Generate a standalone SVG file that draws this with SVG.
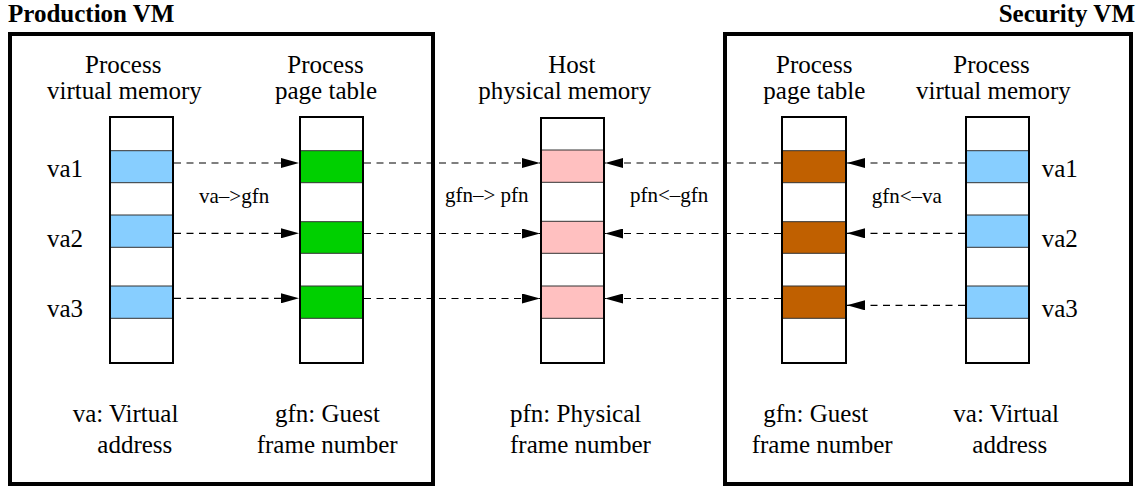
<svg xmlns="http://www.w3.org/2000/svg" width="1143" height="488" viewBox="0 0 1143 488" font-family="Liberation Serif, Tinos, Times New Roman, DejaVu Serif, serif">
  <style>
    text { font-family: 'Liberation Serif', Tinos, 'Times New Roman', 'DejaVu Serif', serif; fill: #000; }
    .title { font-size: 25px; font-weight: bold; }
    .lbl { font-size: 25px; }
    .small { font-size: 21px; }
    .frame { fill: none; stroke: #000; stroke-width: 4; }
    .col { fill: none; stroke: #000; stroke-width: 2; }
    .bg { fill: #fff; }
    .sep { stroke: #333; stroke-width: 1; }
    .blue { fill: #87ceff; }
    .green { fill: #00d000; }
    .pink { fill: #ffc0c0; }
    .brown { fill: #c06000; }
    .link { fill: none; stroke: #000; stroke-width: 1.2; stroke-dasharray: 7 5.5; marker-end: url(#head); }
  </style>
  <defs>
    <marker id="head" markerUnits="userSpaceOnUse" markerWidth="18" markerHeight="10" refX="18" refY="5" orient="auto">
      <path d="M0,0 L18,5 L0,10 Z" fill="#000"/>
    </marker>
  </defs>

  <rect width="1143" height="488" fill="#fff"/>

  <!-- VM boundaries -->
  <g id="production-vm">
    <text class="title" x="8" y="22">Production VM</text>
    <rect class="frame" x="10" y="34" width="423" height="450"/>
  </g>
  <g id="security-vm">
    <text class="title" x="1135" y="22" text-anchor="end">Security VM</text>
    <rect class="frame" x="725" y="34" width="406" height="450"/>
  </g>

  <!-- Production VM: process virtual memory -->
  <g id="prod-vmem">
    <text class="lbl" x="85" y="73">Process</text>
    <text class="lbl" x="47" y="98.5">virtual memory</text>
    <rect class="bg" x="110" y="117" width="63" height="246"/>
    <rect class="blue" x="110" y="150.7" width="63" height="32"/>
    <rect class="blue" x="110" y="215" width="63" height="32.3"/>
    <rect class="blue" x="110" y="286" width="63" height="32.3"/>
    <path class="sep" d="M110,150.7H173M110,182.7H173M110,215H173M110,247.3H173M110,286H173M110,318.3H173"/>
    <rect class="col" x="110" y="117" width="63" height="246"/>
    <text class="lbl" x="47" y="176.7">va1</text>
    <text class="lbl" x="47" y="246.7">va2</text>
    <text class="lbl" x="47" y="316.7">va3</text>
    <text class="lbl" x="72.7" y="421.7">va: Virtual</text>
    <text class="lbl" x="97.3" y="453.3">address</text>
  </g>

  <!-- Production VM: process page table -->
  <g id="prod-pt">
    <text class="lbl" x="287.3" y="73">Process</text>
    <text class="lbl" x="275" y="98.5">page table</text>
    <rect class="bg" x="300" y="117" width="63" height="246"/>
    <rect class="green" x="300" y="150.7" width="63" height="32"/>
    <rect class="green" x="300" y="221.7" width="63" height="31.6"/>
    <rect class="green" x="300" y="286" width="63" height="32.3"/>
    <path class="sep" d="M300,150.7H363M300,182.7H363M300,221.7H363M300,253.3H363M300,286H363M300,318.3H363"/>
    <rect class="col" x="300" y="117" width="63" height="246"/>
    <text class="lbl" x="275" y="421.7">gfn: Guest</text>
    <text class="lbl" x="256.7" y="453.3">frame number</text>
  </g>

  <!-- Host physical memory -->
  <g id="host-mem">
    <text class="lbl" x="548.3" y="72.5">Host</text>
    <text class="lbl" x="478.3" y="98.5">physical memory</text>
    <rect class="bg" x="541" y="118" width="63" height="245"/>
    <rect class="pink" x="541" y="150" width="63" height="32.3"/>
    <rect class="pink" x="541" y="221.3" width="63" height="32"/>
    <rect class="pink" x="541" y="286" width="63" height="32.3"/>
    <path class="sep" d="M541,150H604M541,182.3H604M541,221.3H604M541,253.3H604M541,286H604M541,318.3H604"/>
    <rect class="col" x="541" y="118" width="63" height="245"/>
    <text class="lbl" x="510" y="421.7">pfn: Physical</text>
    <text class="lbl" x="510" y="453.3">frame number</text>
  </g>

  <!-- Security VM: process page table -->
  <g id="sec-pt">
    <text class="lbl" x="776" y="73">Process</text>
    <text class="lbl" x="763.3" y="98.5">page table</text>
    <rect class="bg" x="782" y="117" width="64" height="246"/>
    <rect class="brown" x="782" y="150.7" width="64" height="32"/>
    <rect class="brown" x="782" y="221.7" width="64" height="31.6"/>
    <rect class="brown" x="782" y="286" width="64" height="32.3"/>
    <path class="sep" d="M782,150.7H846M782,182.7H846M782,221.7H846M782,253.3H846M782,286H846M782,318.3H846"/>
    <rect class="col" x="782" y="117" width="64" height="246"/>
    <text class="lbl" x="763.3" y="421.7">gfn: Guest</text>
    <text class="lbl" x="751.7" y="453.3">frame number</text>
  </g>

  <!-- Security VM: process virtual memory -->
  <g id="sec-vmem">
    <text class="lbl" x="953.3" y="73">Process</text>
    <text class="lbl" x="916" y="98.5">virtual memory</text>
    <rect class="bg" x="966" y="117" width="63" height="246"/>
    <rect class="blue" x="966" y="150.7" width="63" height="32"/>
    <rect class="blue" x="966" y="215" width="63" height="32.3"/>
    <rect class="blue" x="966" y="286" width="63" height="32.3"/>
    <path class="sep" d="M966,150.7H1029M966,182.7H1029M966,215H1029M966,247.3H1029M966,286H1029M966,318.3H1029"/>
    <rect class="col" x="966" y="117" width="63" height="246"/>
    <text class="lbl" x="1041.7" y="176.7">va1</text>
    <text class="lbl" x="1041.7" y="246.7">va2</text>
    <text class="lbl" x="1041.7" y="316.7">va3</text>
    <text class="lbl" x="953.3" y="421.7">va: Virtual</text>
    <text class="lbl" x="972.3" y="453.3">address</text>
  </g>

  <!-- Translation arrows -->
  <g id="connectors">
    <path class="link" d="M174,163H299"/>
    <path class="link" d="M174,233.3H299"/>
    <path class="link" d="M174,298.3H299"/>
    <path class="link" d="M364,163H540"/>
    <path class="link" d="M364,233.5H540"/>
    <path class="link" d="M364,298.5H540"/>
    <path class="link" d="M781,163H605"/>
    <path class="link" d="M781,233.5H605"/>
    <path class="link" d="M781,298.5H605"/>
    <path class="link" d="M965,163H847"/>
    <path class="link" d="M965,233.3H847"/>
    <path class="link" d="M965,305.3H847"/>
    <text class="small" x="199" y="202.5">va–&gt;gfn</text>
    <text class="small" x="445" y="202">gfn–&gt; pfn</text>
    <text class="small" x="630" y="202">pfn&lt;–gfn</text>
    <text class="small" x="871.7" y="202.5">gfn&lt;–va</text>
  </g>
</svg>
